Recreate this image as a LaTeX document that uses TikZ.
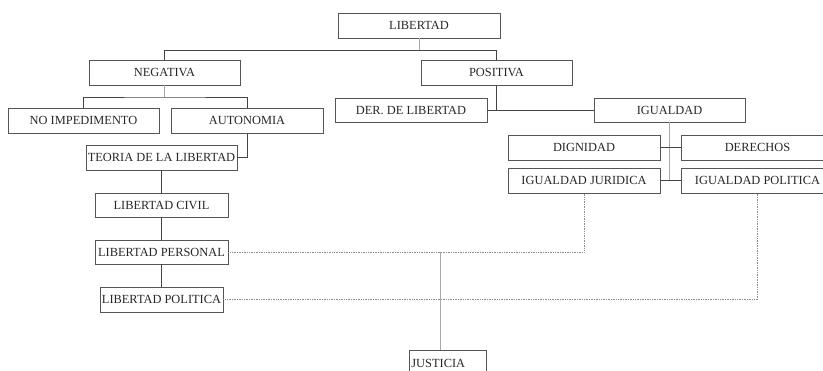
\documentclass[tikz,border=0pt]{standalone}
\usepackage{fontspec}
\setmainfont{Liberation Serif}
\usepackage{tikz}
\usetikzlibrary{scopes}

\definecolor{boxline}{HTML}{555555}
\definecolor{darkline}{HTML}{444444}
\definecolor{lightline}{HTML}{A8A8A8}
\definecolor{dotline}{HTML}{8C8C8C}

\begin{document}
\begin{tikzpicture}[x=1pt,y=-1pt]
\useasboundingbox (0,0) rectangle (823,371);

\begin{scope}[every node/.style={rectangle,draw=boxline,line width=0.8pt,inner sep=0pt,
    minimum height=25pt,text=black!85,font=\fontsize{12.4}{14}\selectfont}]
    \node[minimum width=162pt] (lib) at (419,25.5) {LIBERTAD};
    \node[minimum width=151pt] (neg) at (164.5,72.5) {NEGATIVA};
    \node[minimum width=151pt] (pos) at (496.5,72.5) {POSITIVA};
    \node[minimum width=151pt] (noimp) at (83.5,120.5) {NO IMPEDIMENTO};
    \node[minimum width=152pt] (auto) at (247,120.5) {AUTONOMIA};
    \node[minimum width=151pt] (teo) at (161.5,157.5) {TEORIA DE LA LIBERTAD};
    \node[minimum width=133pt,minimum height=24pt] (civ) at (161.5,205) {LIBERTAD CIVIL};
    \node[minimum width=133pt,minimum height=24pt] (pers) at (161.5,252) {LIBERTAD PERSONAL};
    \node[minimum width=123pt] (lpol) at (161.5,299.5) {LIBERTAD POLITICA};
    \node[minimum width=152pt,minimum height=24pt] (der) at (411,110) {DER. DE LIBERTAD};
    \node[minimum width=151pt,minimum height=24pt] (igu) at (669.5,110) {IGUALDAD};
    \node[minimum width=152pt] (dig) at (584,147.5) {DIGNIDAD};
    \node[minimum width=152pt] (dchos) at (757.5,147.5) {DERECHOS};
    \node[minimum width=152pt] (ijur) at (584,180.5) {IGUALDAD JURIDICA};
    \node[minimum width=152pt] (ipol) at (757.5,180.5) {IGUALDAD POLITICA};
    \node[anchor=north west,minimum height=26pt,text width=73pt,align=left,inner sep=2pt] (just) at (409,350) {JUSTICIA};
\end{scope}

\coordinate (top) at (419,50);
\coordinate (nsplit) at (164.5,97);
\coordinate (jc) at (440,252);

\begin{scope}[line width=0.8pt]
    % tree above
    \draw[lightline] (lib) -- (top);
    \draw[darkline] (top) -| (neg);
    \draw[darkline] (top) -| (pos);
    \draw[lightline] (neg) -- (nsplit);
    \draw[darkline] (noimp) |- (nsplit) -| (auto);
    \draw[darkline] (auto) |- (teo);
    \draw[darkline] (teo) -- (civ);
    \draw[darkline] (civ) -- (pers);
    \draw[darkline] (pers) -- (lpol);
    % positiva branch
    \draw[darkline] (pos) -- (pos.south |- der.east);
    \draw[darkline] (der) -- (igu);
    \draw[lightline] (igu) -- (igu.south |- ijur.east);
    \draw[darkline] (dig) -- (dchos);
    \draw[darkline] (ijur) -- (ipol);
    % links to justicia
    \draw[dotline,line width=0.7pt,densely dotted] (pers) -| (ijur);
    \draw[dotline,line width=0.7pt,densely dotted] (lpol) -| (ipol);
    \draw[lightline,line width=1pt] (jc) -- (jc |- just.north);
\end{scope}
\end{tikzpicture}
\end{document}
